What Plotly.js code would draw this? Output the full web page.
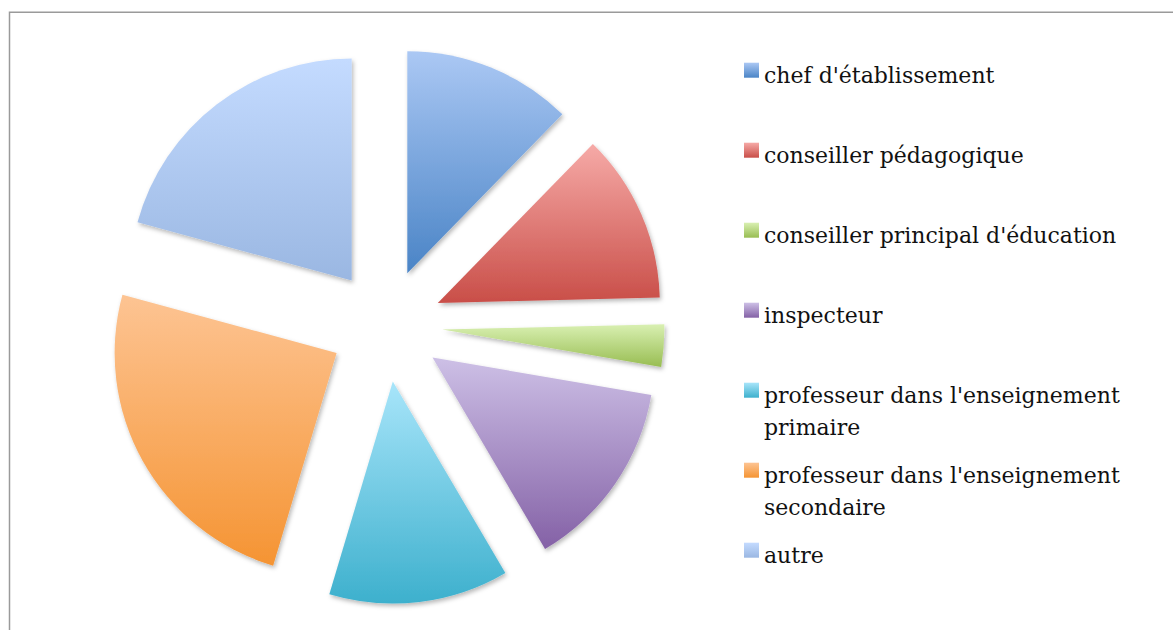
<!DOCTYPE html>
<html>
<head>
<meta charset="utf-8">
<script src="https://cdn.plot.ly/plotly-3.0.1.min.js"></script>
<style>
html,body{margin:0;padding:0;background:#fff;}
#chart{width:1173px;height:630px;}
</style>
</head>
<body>
<div id="chart"></div>
<script>
// ---- data ----
const categories = [
  "chef d'établissement",
  "conseiller pédagogique",
  "conseiller principal d'éducation",
  "inspecteur",
  "professeur dans l'enseignement primaire",
  "professeur dans l'enseignement secondaire",
  "autre"
];
const legendLabels = [
  "chef d'établissement",
  "conseiller pédagogique",
  "conseiller principal d'éducation",
  "inspecteur",
  "professeur dans l'enseignement<br>primaire",
  "professeur dans l'enseignement<br>secondaire",
  "autre"
];
const values = [16, 16, 4, 18, 17, 32, 27];

// ---- styles ----
const topColors    = ['#abc8f4', '#f6aaa7', '#d9f0b2', '#cdc0e6', '#a8e5fa', '#fdc493', '#c4dbff'];
const bottomColors = ['#4a84c6', '#c94e48', '#98bd52', '#8461a6', '#3db0cd', '#f59433', '#9ab7e2'];
const midColors    = ['#7aa6dd', '#e07c78', '#b9d782', '#a890c6', '#72cbe3', '#f9ac63', '#afc9f0'];

const W = 1173, H = 630;
const cx = 386, cy = 325.5, r = 222, pullFrac = 0.2545;
const half = r * (1 + pullFrac);

const trace = {
  type: 'pie',
  labels: categories,
  values: values,
  sort: false,
  direction: 'clockwise',
  rotation: 0,
  pull: values.map(() => pullFrac),
  textinfo: 'none',
  hoverinfo: 'label+value',
  showlegend: false,
  marker: { colors: midColors, line: { width: 0 } },
  domain: {
    x: [(cx - half) / W, (cx + half) / W],
    y: [1 - (cy + half) / H, 1 - (cy - half) / H]
  }
};

const annotations = [];
const shapes = [];
const fontFamily = '"DejaVu Serif", "Liberation Serif", serif';
legendLabels.forEach((lab, i) => {
  const base = 81.7 + 80 * i;
  lab.split('<br>').forEach((line, j) => {
    annotations.push({
      xref: 'paper', yref: 'paper',
      x: 762 / W, y: 1 - (base + 31.7 * j - 20.5) / H,
      xanchor: 'left', yanchor: 'top', align: 'left',
      showarrow: false,
      text: line,
      font: { family: fontFamily, size: 22, color: '#111' }
    });
  });
  shapes.push({
    type: 'rect', xref: 'paper', yref: 'paper',
    x0: 744 / W, x1: 759 / W,
    y0: 1 - (base - 4) / H, y1: 1 - (base - 19) / H,
    fillcolor: midColors[i], line: { width: 0 }
  });
});
// frame
shapes.push({
  type: 'rect', xref: 'paper', yref: 'paper',
  x0: 9.5 / W, x1: 1.01, y0: -0.01, y1: 1 - 12.3 / H,
  line: { color: '#9a9a9a', width: 1.5 }, fillcolor: 'rgba(0,0,0,0)', layer: 'below'
});

const layout = {
  width: W, height: H,
  margin: { l: 0, r: 0, t: 0, b: 0, autoexpand: false },
  paper_bgcolor: '#ffffff',
  plot_bgcolor: '#ffffff',
  showlegend: false,
  annotations: annotations,
  shapes: shapes
};

Plotly.newPlot('chart', [trace], layout, { displayModeBar: false, staticPlot: true }).then(gd => {
  // vertical gradients and soft shadows like the original
  const svg = gd.querySelector('svg.main-svg');
  const NS = 'http://www.w3.org/2000/svg';
  const defs = document.createElementNS(NS, 'defs');
  const filt = document.createElementNS(NS, 'filter');
  filt.setAttribute('id', 'sliceShadow');
  filt.setAttribute('x', '-10%'); filt.setAttribute('y', '-10%');
  filt.setAttribute('width', '130%'); filt.setAttribute('height', '130%');
  const ds = document.createElementNS(NS, 'feDropShadow');
  ds.setAttribute('dx', '1.5'); ds.setAttribute('dy', '2.5');
  ds.setAttribute('stdDeviation', '2');
  ds.setAttribute('flood-color', '#000'); ds.setAttribute('flood-opacity', '0.28');
  filt.appendChild(ds);
  defs.appendChild(filt);
  topColors.forEach((c, i) => {
    const g = document.createElementNS(NS, 'linearGradient');
    g.setAttribute('id', 'sliceGrad' + i);
    g.setAttribute('x1', '0'); g.setAttribute('y1', '0');
    g.setAttribute('x2', '0'); g.setAttribute('y2', '1');
    const s1 = document.createElementNS(NS, 'stop');
    s1.setAttribute('offset', '0'); s1.setAttribute('stop-color', c);
    const s2 = document.createElementNS(NS, 'stop');
    s2.setAttribute('offset', '1'); s2.setAttribute('stop-color', bottomColors[i]);
    g.appendChild(s1); g.appendChild(s2);
    defs.appendChild(g);
  });
  svg.insertBefore(defs, svg.firstChild);
  const paths = gd.querySelectorAll('.pielayer .slice path.surface');
  paths.forEach((p, i) => {
    p.style.fill = 'url(#sliceGrad' + i + ')';
    p.style.filter = 'url(#sliceShadow)';
  });
  const rects = gd.querySelectorAll('.shapelayer path');
  rects.forEach(p => {
    const f = p.style.fill;
    const idx = midColors.findIndex(c => {
      const n = parseInt(c.slice(1), 16);
      return f.replace(/\s/g, '') === 'rgb(' + (n >> 16) + ',' + ((n >> 8) & 255) + ',' + (n & 255) + ')';
    });
    if (idx >= 0) p.style.fill = 'url(#sliceGrad' + idx + ')';
  });
});
</script>
</body>
</html>
